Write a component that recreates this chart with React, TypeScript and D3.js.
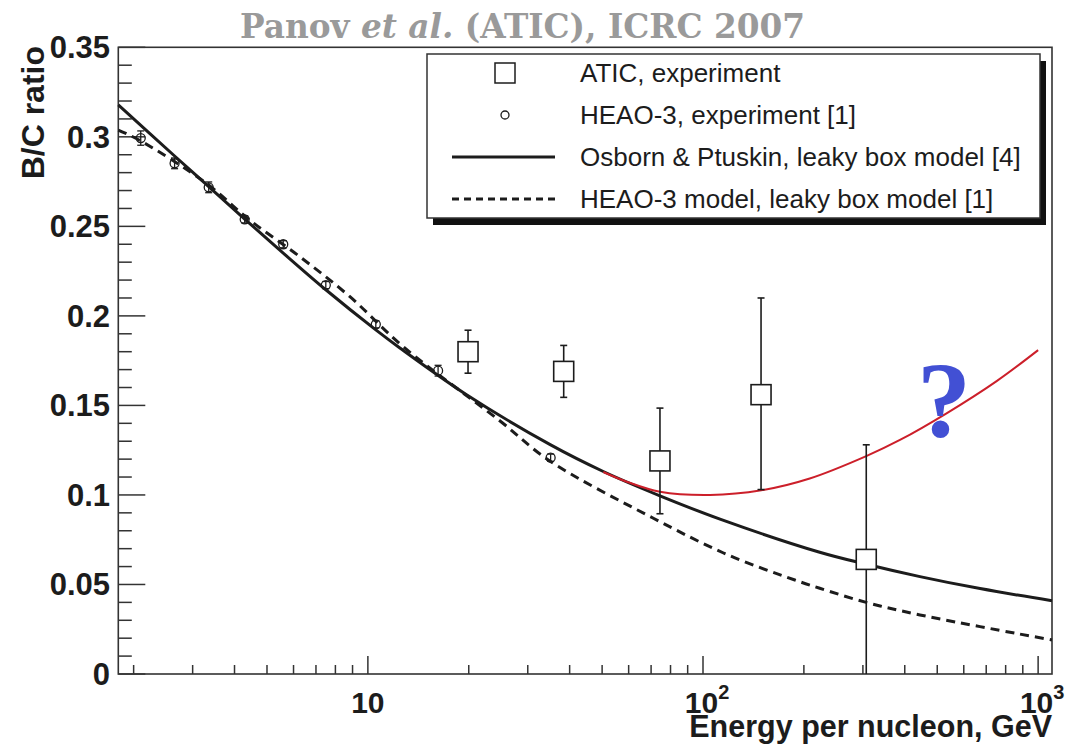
import React from "react";
import * as d3 from "d3";

// ---------- data ----------
const heaoE = [2.1, 2.65, 3.35, 4.29, 5.59, 7.49, 10.56, 16.2, 35.1];
const heaoBC = [0.2993, 0.2852, 0.2718, 0.2539, 0.24, 0.2172, 0.1953, 0.1694, 0.1208];
const heaoErr = [0.004, 0.003, 0.003, 0.002, 0.002, 0.002, 0.002, 0.003, 0.002];

const aticE = [19.9, 38.4, 74.4, 149, 307];
const aticBC = [0.18, 0.169, 0.119, 0.156, 0.064];
const aticErrHi = [0.012, 0.0145, 0.0295, 0.054, 0.064];
const aticErrLo = [0.012, 0.0145, 0.0295, 0.053, 0.064];

const osbornE = [1.8, 2.65, 3.35, 4.29, 5.59, 7.49, 10.56, 12.46, 19.7, 35.0, 50.4, 74.4, 112.4, 223, 307, 444, 671, 1100];
const osbornBC = [0.3178, 0.2893, 0.2722, 0.2541, 0.2351, 0.2146, 0.1922, 0.1821, 0.156, 0.1281, 0.1131, 0.0995, 0.0865, 0.068, 0.0613, 0.0544, 0.0477, 0.0409];

const heaoModelE = [1.8, 2.1, 3.3, 4.44, 6.27, 8.84, 12.75, 24.8, 34.9, 71.1, 118.7, 188, 223, 307, 444, 1100];
const heaoModelBC = [0.3038, 0.2977, 0.274, 0.2535, 0.233, 0.2107, 0.1828, 0.1413, 0.119, 0.087, 0.0665, 0.0525, 0.0479, 0.04, 0.033, 0.019];

const redE = [50.4, 59.2, 74.4, 105, 149.3, 208.2, 307, 387, 533, 752, 1000];
const redBC = [0.1128, 0.1074, 0.1018, 0.1, 0.1026, 0.1092, 0.1217, 0.1307, 0.1456, 0.1636, 0.1809];

const yMajorTicks = [0, 0.05, 0.1, 0.15, 0.2, 0.25, 0.3, 0.35];
const yTickLabels = ["0", "0.05", "0.1", "0.15", "0.2", "0.25", "0.3", "0.35"];
const xMajorTicks = [10, 100, 1000];
const xTickBase = ["10", "10", "10"];
const xTickExp = ["", "2", "3"];

const legendLabels = [
  "ATIC, experiment",
  "HEAO-3, experiment [1]",
  "Osborn & Ptuskin, leaky box model [4]",
  "HEAO-3 model, leaky box model [1]",
];

// ---------- component ----------
export default function App() {
  const W = 1066, H = 745;
  const x = d3.scaleLog().domain([1.8, 1100]).range([118.3, 1052]);
  const y = d3.scaleLinear().domain([0, 0.35]).range([674, 47.3]);
  const ink = "#1c1c1c";
  const axisColor = "#333";
  const sans = "'Liberation Sans', Arial, Helvetica, sans-serif";

  const line = d3
    .line<[number, number]>()
    .x((d) => x(d[0]))
    .y((d) => y(d[1]))
    .curve(d3.curveCatmullRom.alpha(0.5));

  const osborn = line(osbornE.map((e, i) => [e, osbornBC[i]]))!;
  const heaoModel = line(heaoModelE.map((e, i) => [e, heaoModelBC[i]]))!;
  const red = line(redE.map((e, i) => [e, redBC[i]]))!;

  const yMinor = d3.range(0, 36).map((i) => i / 100).filter((v) => Math.round(v * 100) % 5 !== 0);
  const xMinor: number[] = [];
  [1, 10, 100, 1000].forEach((dec) => {
    for (let k = 2; k <= 9; k++) {
      const v = k * dec;
      if (v >= 1.8 && v <= 1100) xMinor.push(v);
    }
  });

  const x0 = x.range()[0], x1 = x.range()[1];
  const y0 = y.range()[0], y1 = y.range()[1];

  // legend geometry
  const lg = { l: 427, t: 54, r: 1040, b: 218 };
  const rowY = [73, 115, 157, 199];
  const symX = 505;

  return (
    <svg width={W} height={H} style={{ position: "absolute", left: 0, top: 0, background: "#fff" }}>
      <rect x={0} y={0} width={W} height={H} fill="#fff" />
      {/* title */}
      <text
        x={240}
        y={38}
        textLength={565}
        lengthAdjust="spacingAndGlyphs"
        fontFamily="'DejaVu Serif', serif"
        fontWeight="bold"
        fontSize={34}
        fill="#9a9a9a"
      >
        Panov <tspan fontStyle="italic">et al.</tspan> (ATIC), ICRC 2007
      </text>

      {/* frame */}
      <rect x={x0} y={y1} width={x1 - x0} height={y0 - y1} fill="none" stroke={axisColor} strokeWidth={1.6} />

      {/* y ticks */}
      {yMajorTicks.map((v, i) => (
        <g key={"ym" + i}>
          <line x1={x0} x2={x0 + 27} y1={y(v)} y2={y(v)} stroke={axisColor} strokeWidth={1.5} />
          <text
            x={110}
            y={y(v) + 11}
            textAnchor="end"
            fontFamily={sans}
            fontWeight="bold"
            fontSize={31}
            fill={ink}
          >
            {yTickLabels[i]}
          </text>
        </g>
      ))}
      {yMinor.map((v, i) => (
        <line key={"yn" + i} x1={x0} x2={x0 + 13.5} y1={y(v)} y2={y(v)} stroke={axisColor} strokeWidth={1.5} />
      ))}

      {/* x ticks */}
      {xMajorTicks.map((v, i) => (
        <g key={"xm" + i}>
          <line x1={x(v)} x2={x(v)} y1={y0} y2={y0 - 18} stroke={axisColor} strokeWidth={1.5} />
          <text
            x={x(v) + (xTickExp[i] ? 4 : 0)}
            y={713}
            textAnchor="middle"
            fontFamily={sans}
            fontWeight="bold"
            fontSize={30}
            fill={ink}
          >
            {xTickBase[i]}
            {xTickExp[i] ? (
              <tspan dy={-14} fontSize={20}>
                {xTickExp[i]}
              </tspan>
            ) : null}
          </text>
        </g>
      ))}
      {xMinor.map((v, i) => (
        <line key={"xn" + i} x1={x(v)} x2={x(v)} y1={y0} y2={y0 - 9} stroke={axisColor} strokeWidth={1.5} />
      ))}

      {/* axis titles */}
      <text
        x={1052}
        y={737}
        textAnchor="end"
        fontFamily={sans}
        fontWeight="bold"
        fontSize={30.5}
        fill={ink}
      >
        Energy per nucleon, GeV
      </text>
      <text
        transform={`translate(44,46) rotate(-90)`}
        textAnchor="end"
        fontFamily={sans}
        fontWeight="bold"
        fontSize={32}
        fill={ink}
      >
        B/C ratio
      </text>

      {/* curves */}
      <path d={heaoModel} fill="none" stroke={ink} strokeWidth={3} strokeDasharray="9,6" />
      <path d={osborn} fill="none" stroke={ink} strokeWidth={3} />
      <path d={red} fill="none" stroke="#cc1f2a" strokeWidth={2} />

      {/* HEAO-3 points */}
      {heaoE.map((e, i) => {
        const cx = x(e), cy = y(heaoBC[i]);
        const t = y(heaoBC[i] + heaoErr[i]), b = y(heaoBC[i] - heaoErr[i]);
        return (
          <g key={"h" + i} stroke={ink} strokeWidth={1.3} fill="none">
            <line x1={cx} x2={cx} y1={t} y2={b} />
            <line x1={cx - 3.5} x2={cx + 3.5} y1={t} y2={t} />
            <line x1={cx - 3.5} x2={cx + 3.5} y1={b} y2={b} />
            <circle cx={cx} cy={cy} r={4.5} fill="none" />
          </g>
        );
      })}

      {/* ATIC points */}
      {aticE.map((e, i) => {
        const cx = x(e), cy = y(aticBC[i]);
        const t = y(aticBC[i] + aticErrHi[i]);
        const b = y(Math.max(0, aticBC[i] - aticErrLo[i]));
        const s = 10;
        return (
          <g key={"a" + i} stroke={ink} strokeWidth={1.6}>
            <line x1={cx} x2={cx} y1={t} y2={cy - s} />
            <line x1={cx} x2={cx} y1={cy + s} y2={b} />
            <line x1={cx - 3.5} x2={cx + 3.5} y1={t} y2={t} />
            {aticBC[i] - aticErrLo[i] > 0.001 ? <line x1={cx - 3.5} x2={cx + 3.5} y1={b} y2={b} /> : null}
            <rect x={cx - s} y={cy - s} width={2 * s} height={2 * s} fill="#fff" />
          </g>
        );
      })}

      {/* question mark */}
      <text
        x={944}
        y={436}
        textAnchor="middle"
        fontFamily="'Liberation Serif', 'Times New Roman', serif"
        fontWeight="bold"
        fontSize={108}
        fill="#4250d4"
      >
        ?
      </text>

      {/* legend */}
      <rect x={lg.l + 6} y={lg.t + 7} width={lg.r - lg.l} height={lg.b - lg.t} fill="#111" />
      <rect x={lg.l} y={lg.t} width={lg.r - lg.l} height={lg.b - lg.t} fill="#fff" stroke={axisColor} strokeWidth={1.5} />
      <rect x={symX - 10} y={rowY[0] - 10} width={20} height={20} fill="#fff" stroke={ink} strokeWidth={1.5} />
      <circle cx={symX} cy={rowY[1]} r={4} fill="none" stroke={ink} strokeWidth={1.3} />
      <line x1={452} x2={555} y1={rowY[2]} y2={rowY[2]} stroke={ink} strokeWidth={3} />
      <line x1={452} x2={555} y1={rowY[3]} y2={rowY[3]} stroke={ink} strokeWidth={3} strokeDasharray="7,5" />
      {legendLabels.map((t, i) => (
        <text key={"lt" + i} x={580} y={rowY[i] + 9} fontFamily={sans} fontSize={26} fill={ink}>
          {t}
        </text>
      ))}
    </svg>
  );
}
